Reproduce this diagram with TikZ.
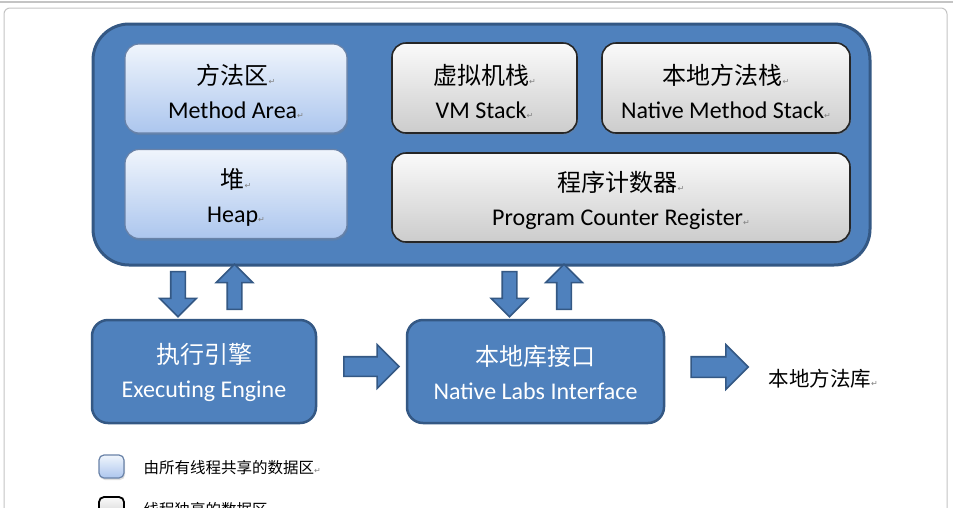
\documentclass[tikz,border=0pt]{standalone}
\usepackage{fontspec}
\setmainfont{Carlito}
\newfontfamily\cjk{Noto Sans CJK SC}
\newfontfamily\symf{DejaVu Sans}
\usetikzlibrary{shapes.arrows,shadows}

\definecolor{jvmblue}{RGB}{79,129,189}
\definecolor{jvmdark}{RGB}{52,88,132}
\definecolor{sharetop}{RGB}{240,245,252}
\definecolor{sharebot}{RGB}{172,198,238}
\definecolor{sharedraw}{RGB}{105,130,168}
\definecolor{owntop}{RGB}{250,250,250}
\definecolor{ownbot}{RGB}{204,204,204}
\definecolor{framegray}{RGB}{196,196,196}

\newcommand{\pmark}{{\symf\fontsize{8}{8}\selectfont\textcolor{gray}{↵}}}

\tikzset{
  shared/.style={draw=sharedraw, line width=1.2pt, rounded corners=14pt,
    top color=sharetop, bottom color=sharebot, align=center, text height=61pt,
    drop shadow={opacity=0.25, shadow xshift=1pt, shadow yshift=-2pt},
    font=\fontsize{24}{34}\selectfont},
  owned/.style={draw=black!85, line width=1.6pt, rounded corners=14pt,
    top color=owntop, bottom color=ownbot, align=center, text height=61pt,
    drop shadow={opacity=0.25, shadow xshift=1pt, shadow yshift=-2pt},
    font=\fontsize{24}{34}\selectfont},
  engine/.style={draw=jvmdark, line width=2.5pt, rounded corners=16pt,
    fill=jvmblue, text=white, align=center, text height=57pt,
    minimum height=103pt, font=\fontsize{24}{34}\selectfont},
  blockarr/.style={single arrow, draw=jvmdark, fill=jvmblue, line width=1.6pt,
    single arrow head extend=#1},
  keybox/.style={rounded corners=5pt, minimum width=25pt, minimum height=23pt,
    inner sep=0pt}
}

\begin{document}
\begin{tikzpicture}[x=1pt,y=-1pt]
  \useasboundingbox (0,0) rectangle (953,507);
  \fill[white] (0,0) rectangle (953,507);

  % window frame
  \draw[framegray, line width=1.5pt] (0,2) -- (953,2);
  \draw[framegray, line width=1pt, rounded corners=6pt] (4,520) -- (4,8) -- (947,8) -- (947,520);

  % runtime data area
  \node[draw=jvmdark, line width=3pt, fill=jvmblue, rounded corners=36pt,
        minimum width=777pt, minimum height=241pt] (jvm) at (481.5,144.5) {};

  \node[shared, minimum width=222pt, minimum height=89pt] (method) at (236,88.5)
    {{\cjk 方法区}\pmark\\Method Area\pmark};
  \node[shared, minimum width=222pt, minimum height=89pt] (heap) at (236,194)
    {{\cjk 堆}\pmark\\Heap\pmark};
  \node[owned, minimum width=185pt, minimum height=90pt] (vmstack) at (484.5,88)
    {{\cjk 虚拟机栈}\pmark\\VM Stack\pmark};
  \node[owned, minimum width=248pt, minimum height=90pt] (nstack) at (726,88)
    {{\cjk 本地方法栈}\pmark\\Native Method Stack\pmark};
  \node[owned, minimum width=458pt, minimum height=89pt] (pcr) at (621,197.5)
    {{\cjk 程序计数器}\pmark\\Program Counter Register\pmark};

  % engine and native interface
  \node[engine, minimum width=224pt] (exec) at (204,371.5)
    {{\cjk 执行引擎}\\Executing Engine};
  \node[engine, minimum width=257pt] (nli) at (535.5,371.5)
    {{\cjk 本地库接口}\\Native Labs Interface};
  \node[anchor=west, font=\cjk\fontsize{20.5}{20.5}\selectfont] (nlib) at (765,379)
    {本地方法库\pmark};

  % block arrows
  \node[blockarr=11pt, inner sep=6.5pt, minimum height=45pt, rotate=-90] (d1) at (178,290.5) {};
  \node[blockarr=11pt, inner sep=6.5pt, minimum height=45pt, rotate=90] (u1) at (234.5,290.5) {};
  \node[blockarr=11pt, inner sep=6.5pt, minimum height=45pt, rotate=-90] (d2) at (509.5,290.5) {};
  \node[blockarr=11pt, inner sep=6.5pt, minimum height=45pt, rotate=90] (u2) at (564,290.5) {};
  \node[blockarr=12pt, inner sep=9pt, minimum height=55pt] (r1) at (366.5,366.5) {};
  \node[blockarr=12pt, inner sep=9.5pt, minimum height=57pt] (r2) at (714.5,367) {};

  % legend
  \node[keybox, draw=sharedraw, line width=1.2pt, top color=sharetop, bottom color=sharebot,
        drop shadow={opacity=0.25, shadow xshift=1pt, shadow yshift=-2pt}] (keyshare) at (111.5,466.5) {};
  \node[anchor=west, font=\cjk\fontsize{15.5}{15.5}\selectfont] (txtshare) at (140,468)
    {由所有线程共享的数据区\pmark};
  \node[keybox, draw=black, line width=1.8pt, top color=owntop, bottom color=ownbot] (keyown) at (111.5,508.5) {};
  \node[anchor=west, font=\cjk\fontsize{15.5}{15.5}\selectfont] (txtown) at (140,510)
    {线程独享的数据区\pmark};
\end{tikzpicture}
\end{document}
